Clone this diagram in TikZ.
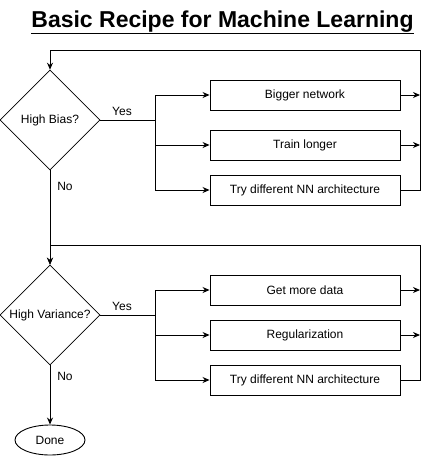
\documentclass[tikz,border=0pt]{standalone}
\usepackage{fontspec}
\setmainfont{Liberation Sans}
\usetikzlibrary{positioning,shapes,arrows.meta}

\begin{document}
\begin{tikzpicture}[x=1pt,y=-1pt,on grid,auto,line width=0.9pt,>={Stealth[length=7pt,width=6pt]},
	test/.style={diamond, draw, line width=0.6pt, minimum size=100pt, inner sep=0pt, font=\fontsize{12}{14}\selectfont},
	fix/.style={rectangle, draw, minimum width=190pt, minimum height=30pt, font=\fontsize{12}{14}\selectfont},
	lbl/.style={inner sep=0pt, anchor=base, font=\fontsize{12}{14}\selectfont}]
	\useasboundingbox (0,0) rectangle (429,456);
	\node[anchor=base, inner sep=0pt, font=\fontsize{23}{28}\selectfont\bfseries](0) at (222.5,27) {\underline{Basic Recipe for Machine Learning}};
	\node[test](1) at (50,120) {High Bias?};
	\node[fix](2) [above right=25pt and 255pt of 1] {Bigger network};
	\node[fix](3) [below=50pt of 2] {Train longer};
	\node[fix](4) [below=45pt of 3] {Try different NN architecture};
	\node[test](5) [below=195pt of 1] {High Variance?};
	\node[fix](6) [above right=25pt and 255pt of 5] {Get more data};
	\node[fix](7) [below=45pt of 6] {Regularization};
	\node[fix](8) [below=45pt of 7] {Try different NN architecture};
	\node[ellipse, draw, minimum width=70pt, minimum height=30pt, inner sep=0pt, font=\fontsize{12}{14}\selectfont](9) [below=125pt of 5] {Done};
	\node[lbl](yes1) at (122,115) {Yes};
	\node[lbl](no1) at (65,190.5) {No};
	\node[lbl](yes2) at (122,310) {Yes};
	\node[lbl](no2) at (65,380) {No};
	\coordinate[right=105pt of 1] (j1);
	\coordinate[right=105pt of 5] (j2);
	\coordinate[above right=70pt and 370pt of 1] (r1);
	\coordinate[above right=70pt and 370pt of 5] (r2);
	\draw (1.east) -- (j1);
	\draw[->] (j1) |- (2.west);
	\draw[->] (j1) |- (3.west);
	\draw[->] (j1) |- (4.west);
	\draw[->] (2.east) -- (2.east -| r1);
	\draw[->] (3.east) -- (3.east -| r1);
	\draw[->] (4.east) -| (r1) -| (1.north);
	\draw[->] (1.south) -- (5.north);
	\draw (5.east) -- (j2);
	\draw[->] (j2) |- (6.west);
	\draw[->] (j2) |- (7.west);
	\draw[->] (j2) |- (8.west);
	\draw[->] (6.east) -- (6.east -| r2);
	\draw[->] (7.east) -- (7.east -| r2);
	\draw[->] (8.east) -| (r2) -| (5.north);
	\draw[->] (5.south) -- (9.north);
\end{tikzpicture}
\end{document}
